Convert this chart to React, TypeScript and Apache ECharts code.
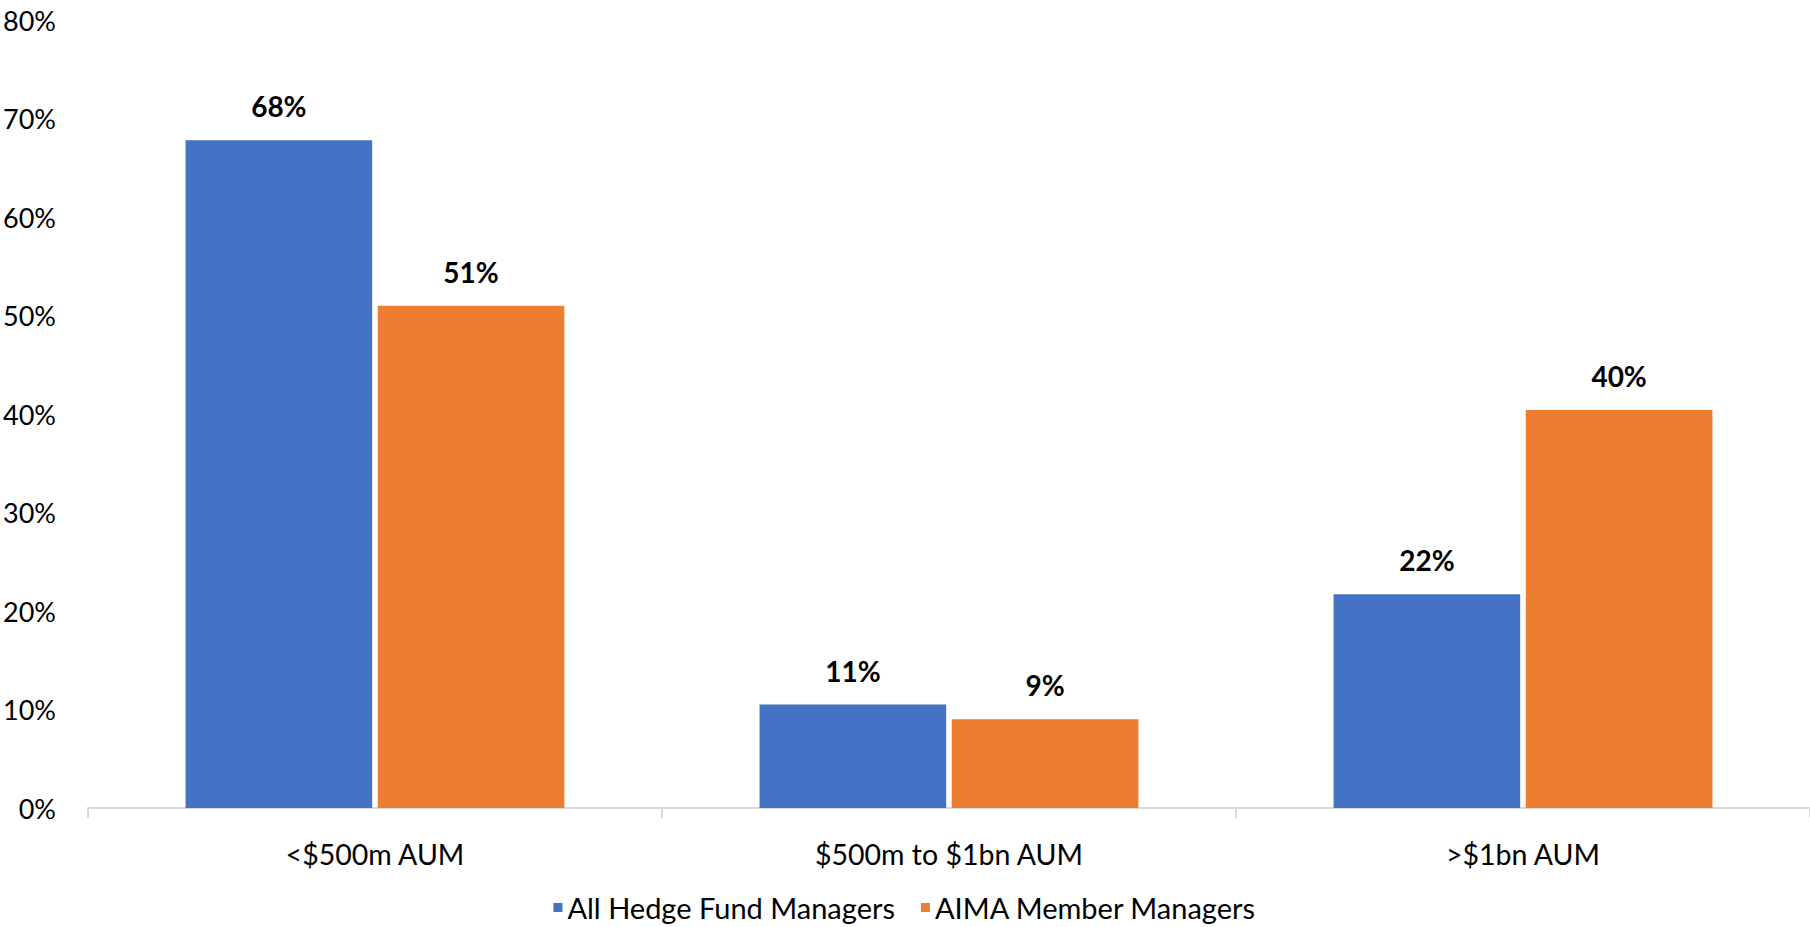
import React, { useEffect, useRef } from "react";
import * as echarts from "echarts";

const categories = ["<$500m AUM", "$500m to $1bn AUM", ">$1bn AUM"];
const seriesNames = ["All Hedge Fund Managers", "AIMA Member Managers"];
const allHedgeFund = [67.8, 10.5, 21.7];
const aimaMembers = [51, 9, 40.4];
const yTicks = { min: 0, max: 80, interval: 10 };

const FONT = "Lato";

export default function App() {
  const ref = useRef<HTMLDivElement>(null);
  useEffect(() => {
    document.body.style.margin = "0";
    const chart = echarts.init(ref.current!, null, { renderer: "svg" });
    const labelCfg = {
      show: true,
      position: "top",
      distance: 20,
      fontFamily: FONT,
      fontSize: 28,
      fontWeight: "bold",
      color: "#000",
      formatter: (p: any) => Math.round(p.value) + "%",
    };
    chart.setOption({
      animation: false,
      backgroundColor: "#fff",
      textStyle: { fontFamily: FONT },
      grid: { left: 87, right: 0, top: 20, bottom: 119, containLabel: false },
      legend: {
        bottom: 0,
        left: "center",
        icon: "rect",
        itemWidth: 9,
        itemHeight: 9,
        itemGap: 26,
        textStyle: { fontFamily: FONT, fontSize: 29, color: "#000" },
        data: seriesNames,
      },
      xAxis: {
        type: "category",
        data: categories,
        axisLine: { lineStyle: { color: "#d9d9d9", width: 2 } },
        axisTick: { show: true, length: 10, lineStyle: { color: "#d9d9d9", width: 2 } },
        axisLabel: { fontFamily: FONT, fontSize: 28.5, color: "#000", margin: 31 },
      },
      yAxis: {
        type: "value",
        min: yTicks.min,
        max: yTicks.max,
        interval: yTicks.interval,
        axisLine: { show: false },
        axisTick: { show: false },
        splitLine: { show: false },
        axisLabel: {
          fontFamily: FONT,
          fontSize: 27,
          color: "#000",
          margin: 32,
          formatter: "{value}%",
        },
      },
      series: [
        {
          name: seriesNames[0],
          type: "bar",
          data: allHedgeFund,
          itemStyle: { color: "#4472C4" },
          barGap: "3%",
          barCategoryGap: "34%",
          label: labelCfg,
        },
        {
          name: seriesNames[1],
          type: "bar",
          data: aimaMembers,
          itemStyle: { color: "#ED7D31" },
          barGap: "3%",
          barCategoryGap: "34%",
          label: labelCfg,
        },
      ],
    });
    return () => chart.dispose();
  }, []);
  return <div ref={ref} style={{ width: 1810, height: 927 }} />;
}
